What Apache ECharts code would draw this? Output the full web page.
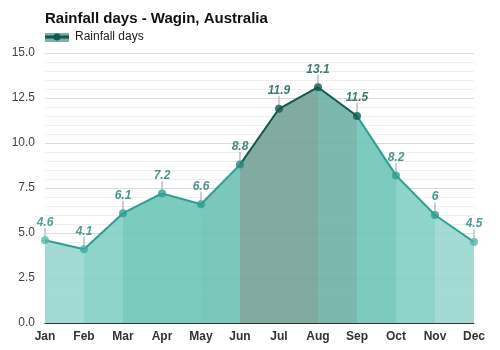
<!DOCTYPE html>
<html><head><meta charset="utf-8">
<script src="https://cdn.jsdelivr.net/npm/echarts@6/dist/echarts.min.js"></script>
<style>html,body{margin:0;padding:0;background:#fff}#c{width:500px;height:350px}</style>
</head><body><div id="c"></div>
<script>
const months = ['Jan','Feb','Mar','Apr','May','Jun','Jul','Aug','Sep','Oct','Nov','Dec'];
const rainfallDays = [4.6, 4.1, 6.1, 7.2, 6.6, 8.8, 11.9, 13.1, 11.5, 8.2, 6, 4.5];
const yTicks = [0, 2.5, 5, 7.5, 10, 12.5, 15];
const segmentFill = ['#96d5cd','#80cec3','#6ac4b6','#6ac4b6','#68c0b2','#6f9e93','#6f9e93','#6aaea2','#6bc4b6','#80cec3','#96d6ce'];
const segmentLine = ['#2a9f90','#2a9f90','#2a9f90','#2a9f90','#2a9f90','#11584e','#11584e','#11584e','#2a9f90','#2a9f90','#2a9f90'];
const markerColor = ['#4db6a8','#3aac9d','#2a9f90','#2a9f90','#2a9f90','#1f8a7c','#11584e','#11584e','#11584e','#2a9f90','#2a9f90','#4db6a8'];
const labelColor = ['#23857a','#23857a','#1d7b6e','#1d7b6e','#1d7b6e','#17695d','#0e5a4e','#0e5a4e','#0e5a4e','#1d7b6e','#1d7b6e','#23857a'];

const series = [];
for (let i = 0; i < rainfallDays.length - 1; i++) {
  series.push({
    type: 'line',
    data: rainfallDays.map((v, j) => (j === i || j === i + 1) ? v : null),
    showSymbol: false,
    symbol: 'none',
    connectNulls: false,
    lineStyle: { color: segmentLine[i], width: 2 },
    areaStyle: { color: segmentFill[i], opacity: 0.88 },
    silent: true,
    z: 2
  });
}
// leader lines
series.push({
  type: 'scatter',
  data: rainfallDays,
  symbol: 'rect',
  symbolSize: [2, 9],
  symbolOffset: [0, -8],
  itemStyle: { color: '#c2c2c2' },
  silent: true,
  z: 3
});
// markers + labels
series.push({
  type: 'scatter',
  name: 'Rainfall days',
  data: rainfallDays.map((v, j) => ({ value: v, itemStyle: { color: markerColor[j] },
    label: { color: labelColor[j] } })),
  symbol: 'circle',
  symbolSize: 8,
  label: {
    show: true, position: 'top', distance: 8,
    fontStyle: 'italic', fontWeight: 'bold', fontSize: 12,
    fontFamily: 'Liberation Sans, Arial, sans-serif',
    formatter: p => String(p.value)
  },
  silent: true,
  z: 4
});

const chart = echarts.init(document.getElementById('c'), null, { renderer: 'canvas' });
chart.setOption({
  animation: false,
  backgroundColor: '#fff',
  textStyle: { fontFamily: 'Liberation Sans, Arial, sans-serif' },
  title: {
    text: 'Rainfall days - Wagin, Australia',
    left: 40, top: 6,
    textStyle: { fontSize: 15, fontWeight: 'bold', color: '#111', fontFamily: 'Liberation Sans, Arial, sans-serif' }
  },
  grid: { left: 45, right: 26, top: 53, bottom: 27 },
  xAxis: {
    type: 'category', data: months, boundaryGap: false,
    axisLine: { lineStyle: { color: '#333', width: 1 } },
    axisTick: { show: false },
    axisLabel: { color: '#333', fontSize: 12, fontWeight: 'bold', margin: 8, interval: 0 },
    splitLine: { show: false }
  },
  yAxis: {
    type: 'value', min: yTicks[0], max: yTicks[yTicks.length - 1], interval: 2.5,
    axisLine: { show: false }, axisTick: { show: false },
    axisLabel: { color: '#444', fontSize: 12, margin: 10, formatter: v => v.toFixed(1) },
    splitLine: { lineStyle: { color: '#dcdcdc', width: 1 } },
    minorTick: { show: false, splitNumber: 5 },
    minorSplitLine: { show: true, lineStyle: { color: '#eeeeee', width: 1 } }
  },
  graphic: [
    { type: 'rect', left: 45, top: 33, shape: { width: 24, height: 9 }, style: { fill: '#82aea5' }, z: 10 },
    { type: 'line', shape: { x1: 45, y1: 37, x2: 69, y2: 37 }, style: { stroke: '#11584e', lineWidth: 3 }, z: 11 },
    { type: 'circle', shape: { cx: 57, cy: 37, r: 3.5 }, style: { fill: '#11584e' }, z: 12 },
    { type: 'text', left: 75, top: 31, style: { text: 'Rainfall days', fontSize: 12, fill: '#222', fontFamily: 'Liberation Sans, Arial, sans-serif' }, z: 12 }
  ],
  series: series
});
</script></body></html>
